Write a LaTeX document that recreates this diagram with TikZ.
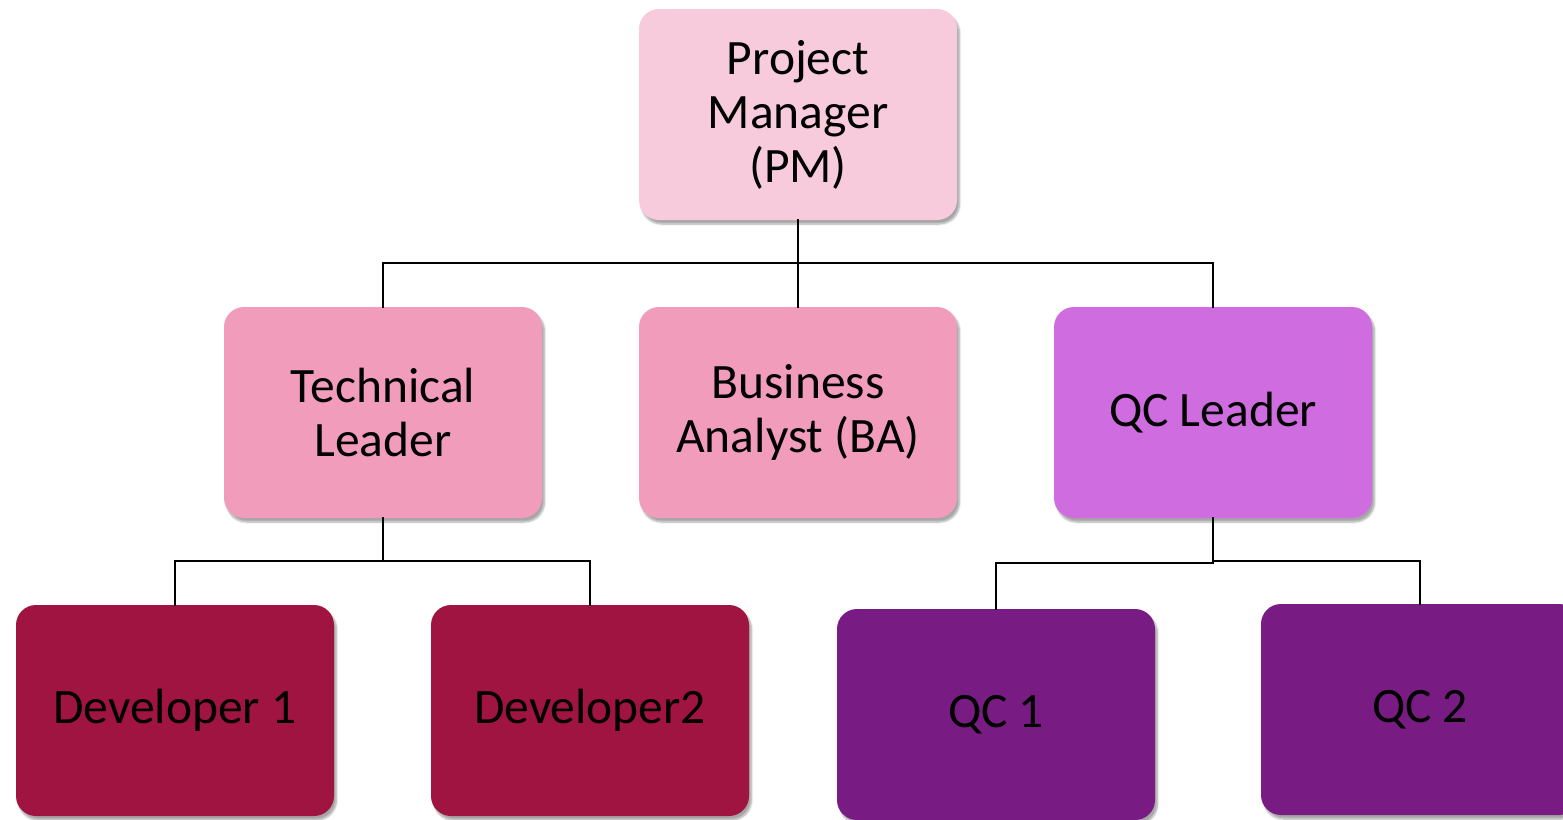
\documentclass[tikz,border=0pt]{standalone}
\usepackage{fontspec}
\setmainfont{Carlito}
\usetikzlibrary{shadows.blur}
\definecolor{pmcol}{HTML}{F8CBDC}
\definecolor{tlcol}{HTML}{F29CBC}
\definecolor{qclcol}{HTML}{CE6CE0}
\definecolor{devcol}{HTML}{A01441}
\definecolor{qccol}{HTML}{781C84}
\tikzset{
  orgbox/.style={rectangle, rounded corners=20pt, minimum width=318pt, minimum height=211pt,
    inner sep=0pt, align=center, font=\fontsize{49.5}{54}\selectfont,
    text=black, blur shadow={shadow xshift=2.5pt, shadow yshift=-4pt, shadow blur steps=6, shadow opacity=35}},
  link/.style={draw=black, line width=2.6pt, line cap=rect}
}
\begin{document}
\begin{tikzpicture}[x=1pt,y=-1pt]
\useasboundingbox (0,0) rectangle (1563,819);
\clip (0,0) rectangle (1563,819);
\node[orgbox, fill=pmcol] (pm) at (798,114.5) {Project\\Manager\\(PM)};
\node[orgbox, fill=tlcol] (tl) at (383,412.5) {Technical\\Leader};
\node[orgbox, fill=tlcol] (ba) at (798,412.5) {Business\\Analyst (BA)};
\node[orgbox, fill=qclcol] (qcl) at (1213,412.5) {QC Leader};
\node[orgbox, fill=devcol] (d1) at (175,710.5) {Developer 1};
\node[orgbox, fill=devcol] (d2) at (590,710.5) {Developer2};
\node[orgbox, fill=qccol] (q1) at (996,714.5) {QC 1};
\node[orgbox, fill=qccol] (q2) at (1420,709.5) {QC 2};
\coordinate (j1) at (798,263);
\coordinate (j2) at (383,561);
\coordinate (j3) at (1213,563);
\coordinate (j4) at (1213,561);
\draw[link] (pm.south) -- (j1);
\draw[link] (j1) -| (tl.north);
\draw[link] (j1) -| (qcl.north);
\draw[link] (j1) -- (ba.north);
\draw[link] (tl.south) -- (j2);
\draw[link] (j2) -| (d1.north);
\draw[link] (j2) -| (d2.north);
\draw[link] (qcl.south) -- (j3);
\draw[link] (j3) -| (q1.north);
\draw[link] (j4) -| (q2.north);
\end{tikzpicture}
\end{document}
